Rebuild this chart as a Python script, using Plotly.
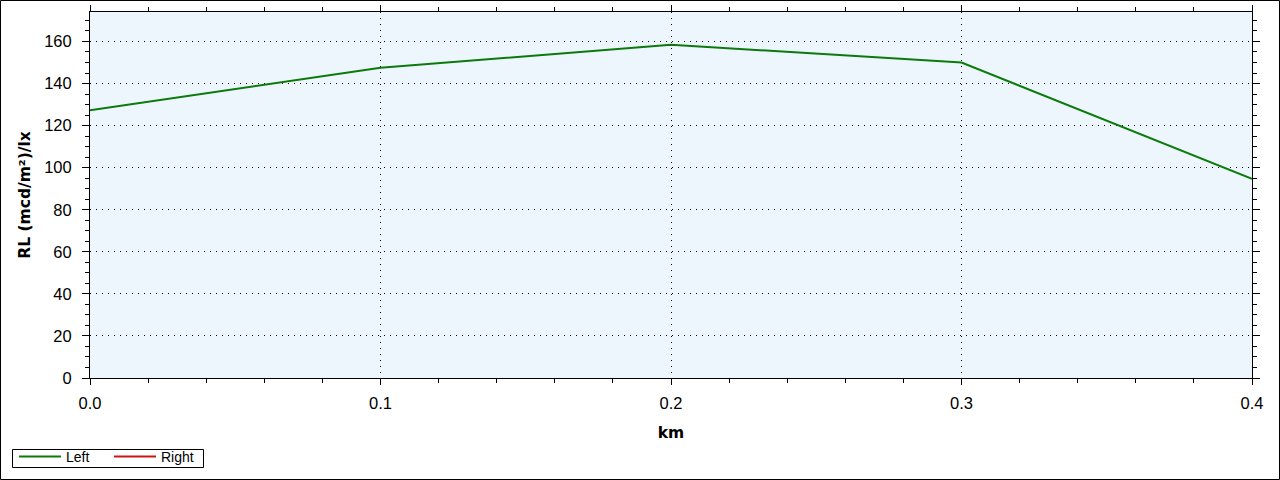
import plotly.graph_objects as go

x_km = [0.0, 0.1, 0.2, 0.3, 0.4]
left_rl = [127.3, 147.5, 158.4, 150.0, 94.7]
right_rl = [None, None, None, None, None]

FONT = "Liberation Sans, Arial, sans-serif"
TITLE_FONT = "DejaVu Sans, Verdana, sans-serif"
W, H = 1280, 480
L, R, T, B = 90, 28, 12, 102
pw, ph = W - L - R, H - T - B


def px_x(p):
    return (p - L) / pw


def px_y(p):
    return (H - B - p) / ph


fig = go.Figure()
fig.add_trace(go.Scatter(x=x_km, y=left_rl, mode="lines", name="Left",
                         line=dict(color="#0B7A0B", width=2)))
fig.add_trace(go.Scatter(x=x_km, y=right_rl, mode="lines", name="Right",
                         line=dict(color="#CC1515", width=2)))

axis_common = dict(
    showline=True, linecolor="black", linewidth=1, mirror="ticks",
    ticks="outside", tickcolor="black", tickwidth=1,
    showgrid=True, gridcolor="black", griddash="1px,5px", gridwidth=1,
    zeroline=False,
    tickfont=dict(family=FONT, size=16.5, color="black"),
    title_font=dict(family=TITLE_FONT, size=15.5, color="black"),
)

fig.update_xaxes(
    range=[0, 0.4], dtick=0.1, tick0=0, tickformat=".1f", ticklen=6,
    minor=dict(dtick=0.02, ticks="outside", ticklen=4, tickcolor="black", showgrid=False),
    title=dict(text="<b>km</b>", standoff=16),
    ticklabelstandoff=4,
    **axis_common,
)
fig.update_yaxes(
    range=[0, 174], dtick=20, tick0=0, ticklen=7,
    minor=dict(dtick=5, ticks="outside", ticklen=4, tickcolor="black", showgrid=False),
    title=dict(text="<b>RL (mcd/m²)/lx</b>", standoff=9),
    ticklabelstandoff=7,
    **axis_common,
)

fig.update_layout(
    width=W, height=H,
    margin=dict(l=L, r=R, t=T, b=B, autoexpand=False),
    paper_bgcolor="white", plot_bgcolor="#EEF6FD",
    font=dict(family=FONT, size=14, color="black"),
    showlegend=True,
    legend=dict(
        orientation="h", x=px_x(14), y=px_y(441),
        xanchor="left", yanchor="top",
        borderwidth=0, bgcolor="rgba(0,0,0,0)",
        font=dict(family=FONT, size=14, color="black"),
        itemwidth=42, entrywidth=38, tracegroupgap=0,
    ),
    shapes=[
        dict(type="rect", xref="paper", yref="paper",
             x0=px_x(0.5), x1=px_x(W - 0.5), y0=px_y(H - 0.5), y1=px_y(0.5),
             line=dict(color="black", width=1), fillcolor="rgba(0,0,0,0)",
             layer="below"),
        dict(type="rect", xref="paper", yref="paper",
             x0=px_x(12.5), x1=px_x(203.5), y0=px_y(467.5), y1=px_y(449.5),
             line=dict(color="black", width=1), fillcolor="white",
             layer="below"),
    ],
)

fig.write_html("out.html", config={"displayModeBar": False},
               post_script="document.body.style.margin='0';")
